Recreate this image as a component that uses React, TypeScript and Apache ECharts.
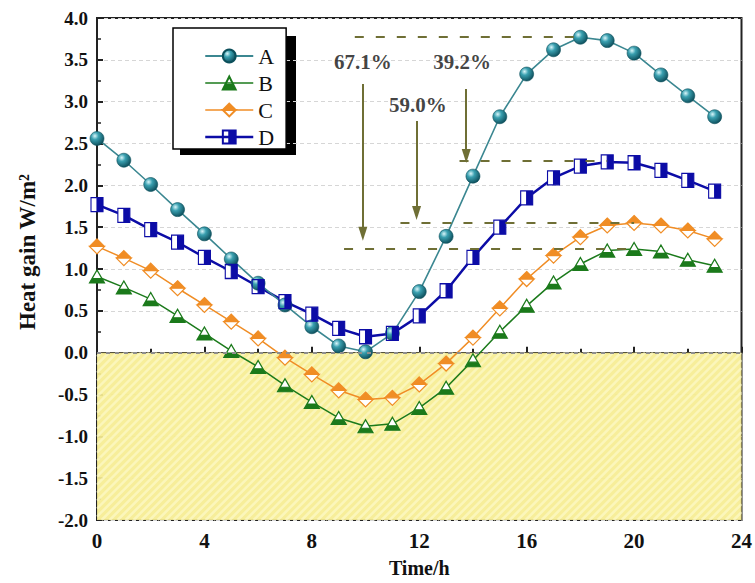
import React, { useEffect, useRef } from 'react';
import * as echarts from 'echarts';

const hours = [0, 1, 2, 3, 4, 5, 6, 7, 8, 9, 10, 11, 12, 13, 14, 15, 16, 17, 18, 19, 20, 21, 22, 23];
const valuesA = [2.56, 2.30, 2.01, 1.71, 1.42, 1.12, 0.83, 0.57, 0.31, 0.08, 0.01, 0.23, 0.73, 1.39, 2.11, 2.82, 3.33, 3.62, 3.77, 3.73, 3.58, 3.32, 3.07, 2.82];
const valuesB = [0.91, 0.78, 0.64, 0.44, 0.23, 0.02, -0.17, -0.39, -0.59, -0.78, -0.88, -0.85, -0.66, -0.42, -0.09, 0.25, 0.56, 0.84, 1.06, 1.22, 1.24, 1.21, 1.11, 1.04];
const valuesC = [1.27, 1.13, 0.98, 0.77, 0.57, 0.37, 0.17, -0.06, -0.26, -0.45, -0.56, -0.54, -0.38, -0.13, 0.18, 0.53, 0.88, 1.16, 1.38, 1.52, 1.55, 1.52, 1.46, 1.36];
const valuesD = [1.77, 1.64, 1.47, 1.32, 1.14, 0.97, 0.79, 0.61, 0.46, 0.29, 0.19, 0.23, 0.44, 0.74, 1.14, 1.50, 1.85, 2.09, 2.23, 2.28, 2.27, 2.18, 2.06, 1.93];

// shaded "heat loss" region: [xFrom, xTo, yFrom, yTo]
const lossRegion = [0, 24, -2, 0];

// reduction annotations
const refLineY = [3.77, 2.29, 1.55, 1.24];
const refLineStart = [9.6, 13.5, 11.3, 9.2];
const refLineEnd = [18, 19, 20, 20];
const arrowX = [9.9, 11.9, 13.75];
const arrowTop = [3.21, 2.77, 3.15];
const arrowBottom = [1.42, 1.67, 2.35];
const pctLabels = ['67.1%', '59.0%', '39.2%'];
const pctLabelX = [9.9, 11.95, 13.6];
const pctLabelY = [3.47, 2.96, 3.47];

const FONT = '"Liberation Serif", "Times New Roman", serif';

const TRI_HOLE = 'path://M10 0 L20 20 L0 20 Z M10 0 L3.5 13 L16.5 13 Z';
const TRI_FULL = 'path://M10 0 L20 20 L0 20 Z';
const DIA_HOLE = 'path://M10 0 L20 10 L10 20 L0 10 Z M0 10 L10 20 L20 10 Z';
const DIA_FULL = 'path://M10 0 L20 10 L10 20 L0 10 Z';
const SQ_HOLE = 'path://M0 0 L20 0 L20 20 L0 20 Z M0 0 L0 20 L10 20 L10 0 Z';
const SQ_FULL = 'path://M0 0 L20 0 L20 20 L0 20 Z';

const COL_A_LINE = '#3b8791';
const COL_B = '#1b7a1b';
const COL_C = '#f08d25';
const COL_D = '#0c0ca6';
const OLIVE = '#6f6f35';

function pairs(vals: number[]) {
  return hours.map((h, i) => [h, vals[i]]);
}

function halfMarkerSeries(name: string, vals: number[], color: string, lineWidth: number, hole: string, full: string, size: number | number[]) {
  return [
    {
      name: name + '_line',
      type: 'line',
      data: pairs(vals),
      symbol: 'none',
      z: 2,
      lineStyle: { color, width: lineWidth },
      silent: true,
    },
    {
      name: name + '_under',
      type: 'line',
      data: pairs(vals),
      symbol: full,
      symbolSize: size,
      z: 3,
      lineStyle: { width: 0, opacity: 0 },
      itemStyle: { color: '#ffffff', borderWidth: 0 },
      silent: true,
    },
    {
      name,
      type: 'line',
      data: pairs(vals),
      symbol: hole,
      symbolSize: size,
      z: 4,
      lineStyle: { width: 0, opacity: 0, color },
      itemStyle: { color, borderColor: color, borderWidth: 1.2 },
    },
  ];
}

export default function App() {
  const ref = useRef<HTMLDivElement>(null);
  useEffect(() => {
    if (!ref.current) return;
    const chart = echarts.init(ref.current, null, { renderer: 'svg' });
    const ballGrad = new echarts.graphic.RadialGradient(0.35, 0.32, 0.75, [
      { offset: 0, color: '#d9f6fa' },
      { offset: 0.35, color: '#3aa0b0' },
      { offset: 1, color: '#0a4855' },
    ]);

    const refLineData: any[] = refLineY.map((y, i) => [
      { coord: [refLineStart[i], y] },
      { coord: [refLineEnd[i], y] },
    ]);
    const arrowData = arrowX.map((x, i) => [
      { coord: [x, arrowTop[i]] },
      { coord: [x, arrowBottom[i]] },
    ]);
    const labelData = pctLabels.map((t, i) => [pctLabelX[i], pctLabelY[i], t]);

    const renderHatch = (params: any, api: any) => {
      const tl = api.coord([api.value(0), api.value(3)]);
      const br = api.coord([api.value(1), api.value(2)]);
      const x0 = tl[0], y0 = tl[1], x1 = br[0], y1 = br[1];
      const children: any[] = [
        {
          type: 'rect',
          shape: { x: x0, y: y0, width: x1 - x0, height: y1 - y0 },
          style: { fill: 'rgba(246, 237, 146, 0.93)' },
        },
      ];
      const step = 8;
      for (let c = x0 + y0 + step / 2; c < x1 + y1; c += step) {
        const xa = Math.max(x0, c - y1);
        const xb = Math.min(x1, c - y0);
        if (xb <= xa) continue;
        children.push({
          type: 'line',
          shape: { x1: xa, y1: c - xa, x2: xb, y2: c - xb },
          style: { stroke: 'rgba(255, 253, 215, 0.55)', lineWidth: 2.5 },
        });
      }
      return { type: 'group', children };
    };

    const option: any = {
      animation: false,
      backgroundColor: '#ffffff',
      grid: {
        left: 97,
        right: 13,
        top: 18,
        bottom: 56,
        show: true,
        borderColor: '#222',
        borderWidth: 2,
        backgroundColor: 'transparent',
      },
      legend: {
        orient: 'vertical',
        left: 173,
        top: 28,
        itemWidth: 48,
        itemHeight: 16,
        itemGap: 5,
        padding: [17, 12, 1, 31],
        backgroundColor: '#ffffff',
        borderColor: '#000',
        borderWidth: 1.5,
        selectedMode: false,
        z: 10,
        textStyle: { fontFamily: FONT, fontSize: 22, color: '#111', lineHeight: 16 },
        data: [
          { name: 'A' },
          { name: 'B', lineStyle: { width: 1.5, color: COL_B, opacity: 1 } },
          { name: 'C', lineStyle: { width: 1.5, color: COL_C, opacity: 1 } },
          { name: 'D', lineStyle: { width: 2.5, color: COL_D, opacity: 1 } },
        ],
      },
      graphic: [
        {
          type: 'rect',
          z: 0,
          shape: { x: 180, y: 36, width: 116, height: 119 },
          style: { fill: '#000' },
          silent: true,
        },
        {
          type: 'text',
          x: 27,
          y: 252,
          rotation: Math.PI / 2,
          silent: true,
          style: {
            text: 'Heat gain W/m\u00b2',
            align: 'center',
            verticalAlign: 'middle',
            fontFamily: FONT,
            fontSize: 23,
            fontWeight: 'bold',
            fill: '#111',
          },
        },
      ],
      xAxis: {
        type: 'value',
        min: 0,
        max: 24,
        interval: 4,
        name: 'Time/h',
        nameLocation: 'middle',
        nameGap: 38,
        nameTextStyle: { fontFamily: FONT, fontSize: 20, fontWeight: 'bold', color: '#111' },
        axisLine: { show: true, lineStyle: { color: '#222', width: 2 } },
        axisTick: { show: true, inside: true, length: 6, lineStyle: { color: '#222', width: 2 } },
        minorTick: { show: true, splitNumber: 2, length: 4, lineStyle: { color: '#222', width: 2 } },
        axisLabel: { fontFamily: FONT, fontSize: 21, fontWeight: 'bold', color: '#111', margin: 10 },
        splitLine: { show: false },
      },
      yAxis: {
        type: 'value',
        min: -2,
        max: 4,
        interval: 0.5,
        axisLine: { show: true, lineStyle: { color: '#222', width: 2 } },
        axisTick: { show: true, inside: true, length: 6, lineStyle: { color: '#222', width: 2 } },
        minorTick: { show: true, splitNumber: 2, length: 4, lineStyle: { color: '#222', width: 1.5 } },
        axisLabel: {
          fontFamily: FONT,
          fontSize: 19,
          fontWeight: 'bold',
          color: '#111',
          margin: 9,
          formatter: (v: number) => v.toFixed(1),
        },
        splitLine: { show: true, lineStyle: { color: '#d6d6d6', type: [4, 3], width: 1 } },
      },
      series: [
        {
          name: 'loss',
          type: 'custom',
          data: [lossRegion],
          encode: { x: [0, 1], y: [2, 3] },
          renderItem: renderHatch,
          z: 1,
          silent: true,
        },
        {
          name: 'refs',
          type: 'line',
          data: [],
          z: 5,
          silent: true,
          markLine: {
            silent: true,
            symbol: 'none',
            label: { show: false },
            lineStyle: { color: OLIVE, type: [9, 12], width: 2 },
            data: [
              { yAxis: 0, lineStyle: { color: '#8e8e8e', type: [4, 5], width: 2 } },
              ...refLineData,
            ],
          },
        },
        {
          name: 'arrows',
          type: 'line',
          data: [],
          z: 5,
          silent: true,
          markLine: {
            silent: true,
            symbol: ['none', 'triangle'],
            symbolSize: [9, 14],
            label: { show: false },
            lineStyle: { color: OLIVE, type: 'solid', width: 2 },
            data: arrowData,
          },
        },
        {
          name: 'pct',
          type: 'scatter',
          data: labelData,
          symbolSize: 0,
          z: 6,
          silent: true,
          label: {
            show: true,
            position: 'inside',
            formatter: (p: any) => p.data[2],
            fontFamily: FONT,
            fontSize: 21,
            fontWeight: 'bold',
            color: '#111',
          },
        },
        {
          name: 'A',
          type: 'line',
          data: pairs(valuesA),
          symbol: 'circle',
          symbolSize: 14,
          z: 4,
          lineStyle: { color: COL_A_LINE, width: 1.6 },
          itemStyle: { color: ballGrad, borderColor: '#0b4f5b', borderWidth: 0.6 },
        },
        ...halfMarkerSeries('B', valuesB, COL_B, 1.5, TRI_HOLE, TRI_FULL, [15, 13]),
        ...halfMarkerSeries('C', valuesC, COL_C, 1.5, DIA_HOLE, DIA_FULL, 15),
        ...halfMarkerSeries('D', valuesD, COL_D, 2.5, SQ_HOLE, SQ_FULL, [12, 14]),
      ],
    };
    chart.setOption(option);
    return () => chart.dispose();
  }, []);
  return (
    <div
      ref={ref}
      style={{ position: 'fixed', left: 0, top: 0, width: 755, height: 583, background: '#fff' }}
    />
  );
}
